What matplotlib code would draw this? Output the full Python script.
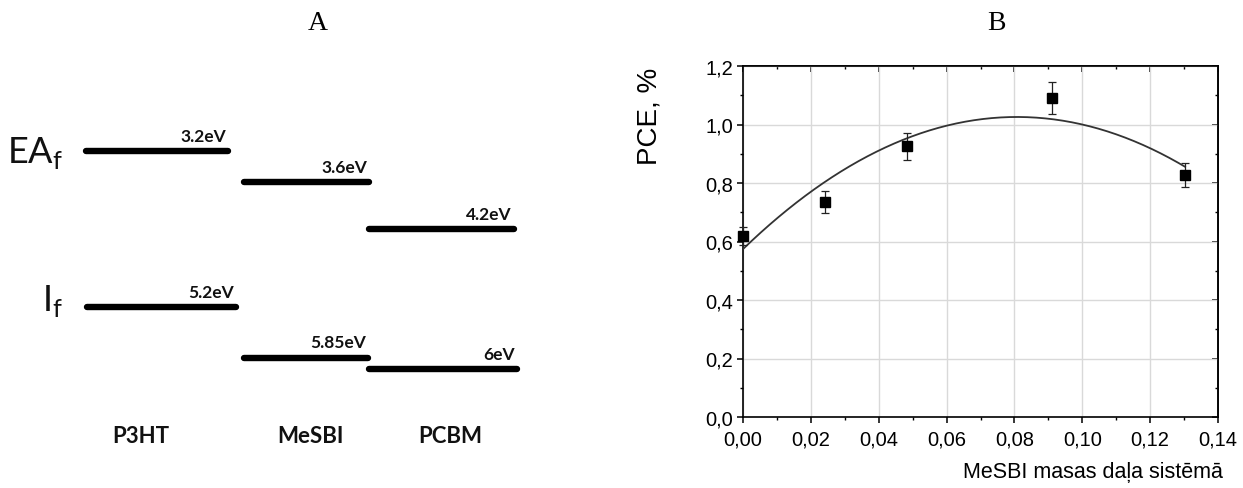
import numpy as np
import matplotlib
matplotlib.use("Agg")
import matplotlib.pyplot as plt
from matplotlib.ticker import MultipleLocator, FuncFormatter

# --- panel A: energy levels (eV) ---
materials = ["P3HT", "MeSBI", "PCBM"]
ea_levels = [3.2, 3.6, 4.2]
ip_levels = [5.2, 5.85, 6.0]

# --- panel B: PCE vs MeSBI mass fraction ---
mass_frac = [0.0, 0.0242, 0.0482, 0.0912, 0.1303]
pce = [0.618, 0.734, 0.925, 1.091, 0.828]
pce_err = [0.030, 0.037, 0.046, 0.054, 0.040]
fit_coeffs = [-69.3, 11.19, 0.574]   # quadratic fit shown in the figure
fit_range = [0.0, 0.1303]

W, H = 1243, 489
fig = plt.figure(figsize=(W / 100, H / 100), dpi=100)

# ---------------- panel A ----------------
# axis in pixel units horizontally, energy (inverted) vertically
px_per_ev = 78.0
y_ref_px, e_ref = 152.0, 3.2
ax_a = fig.add_axes([0, 0, 560 / W, 1])
ax_a.set_xlim(0, 560)
ax_a.set_ylim(e_ref + (H - y_ref_px) / px_per_ev, e_ref - y_ref_px / px_per_ev)
ax_a.axis("off")

ea_x = [(86, 228), (244, 369), (369, 514)]
ip_x = [(87, 236), (244, 368), (369, 517)]
lab_font = dict(family=["Lato", "DejaVu Sans"], fontweight="bold", color="#111111")

for (x0, x1), e in zip(ea_x, ea_levels):
    ax_a.plot([x0, x1], [e, e], color="black", lw=4.6, solid_capstyle="round")
    ax_a.annotate(f"{e:g}eV", xy=(x1 - 2, e), xytext=(0, 11), textcoords="offset points",
                  ha="right", va="center", fontsize=12.5, **lab_font)
for (x0, x1), e in zip(ip_x, ip_levels):
    ax_a.plot([x0, x1], [e, e], color="black", lw=4.6, solid_capstyle="round")
    ax_a.annotate(f"{e:g}eV", xy=(x1 - 2, e), xytext=(0, 11), textcoords="offset points",
                  ha="right", va="center", fontsize=12.5, **lab_font)

ax_a.annotate(r"EA$_\mathregular{f}$", xy=(63, ea_levels[0]), xytext=(0, -8),
              textcoords="offset points", ha="right", va="baseline",
              fontsize=26, family=["Lato", "DejaVu Sans"], color="#111111")
ax_a.annotate(r"I$_\mathregular{f}$", xy=(63, ip_levels[0]), xytext=(0, -2),
              textcoords="offset points", ha="right", va="baseline",
              fontsize=26, family=["Lato", "DejaVu Sans"], color="#111111")

for xc, name in zip([141, 310, 450], materials):
    ax_a.text(xc, e_ref + (437 - y_ref_px) / px_per_ev, name, ha="center", va="center",
              fontsize=16, **lab_font)

fig.text(318 / W, 1 - 23 / H, "A", ha="center", va="center",
         fontsize=20, family="Liberation Serif")
fig.text(996 / W, 1 - 23 / H, "B", ha="center", va="center",
         fontsize=20, family="Liberation Serif")

# ---------------- panel B ----------------
plt.rcParams["font.family"] = ["Liberation Sans", "DejaVu Sans"]
ax_b = fig.add_axes([743 / W, (H - 418) / H, 475 / W, 351 / H])
ax_b.set_xlim(0, 0.14)
ax_b.set_ylim(0, 1.2)

ax_b.grid(True, color="#d9d9d9", lw=1.0)
ax_b.set_axisbelow(True)

xf = np.linspace(fit_range[0], fit_range[1], 200)
ax_b.plot(xf, np.polyval(fit_coeffs, xf), color="#333333", lw=1.3, zorder=3)
ax_b.errorbar(mass_frac, pce, yerr=pce_err, fmt="s", color="black", ms=6.5,
              ecolor="#222222", elinewidth=0.9, capsize=3, capthick=0.9,
              clip_on=False, zorder=4)

ax_b.xaxis.set_major_locator(MultipleLocator(0.02))
ax_b.xaxis.set_minor_locator(MultipleLocator(0.01))
ax_b.yaxis.set_major_locator(MultipleLocator(0.2))
ax_b.yaxis.set_minor_locator(MultipleLocator(0.1))
ax_b.xaxis.set_major_formatter(FuncFormatter(lambda v, p: f"{v:.2f}".replace(".", ",")))
ax_b.yaxis.set_major_formatter(FuncFormatter(lambda v, p: f"{v:.1f}".replace(".", ",")))

ax_b.tick_params(which="major", direction="out", length=4, width=1.1,
                 labelsize=14.5, colors="black")
ax_b.tick_params(which="minor", direction="out", length=2.3, width=1.0)
ax_b.tick_params(axis="x", which="major", pad=5)
ax_b.tick_params(axis="y", which="major", pad=3)
for s in ax_b.spines.values():
    s.set_linewidth(1.2)

# inward ticks on top and right
sec_x = ax_b.secondary_xaxis("top")
sec_x.xaxis.set_major_locator(MultipleLocator(0.02))
sec_x.xaxis.set_minor_locator(MultipleLocator(0.01))
sec_x.tick_params(which="major", direction="in", length=4, width=1.1, labeltop=False)
sec_x.tick_params(which="minor", direction="in", length=2.3, width=1.0)
sec_y = ax_b.secondary_yaxis("right")
sec_y.yaxis.set_major_locator(MultipleLocator(0.2))
sec_y.yaxis.set_minor_locator(MultipleLocator(0.1))
sec_y.tick_params(which="major", direction="in", length=4, width=1.1, labelright=False)
sec_y.tick_params(which="minor", direction="in", length=2.3, width=1.0)
for s in list(sec_x.spines.values()) + list(sec_y.spines.values()):
    s.set_linewidth(1.2)

ax_b.set_ylabel("PCE, %", fontsize=20)
ax_b.yaxis.set_label_coords(-0.17, 0.86)
fig.text(1223 / W, 1 - 473 / H, "MeSBI masas daļa sistēmā", ha="right", va="center",
         fontsize=15.5)

fig.savefig("out.png", dpi=100)
